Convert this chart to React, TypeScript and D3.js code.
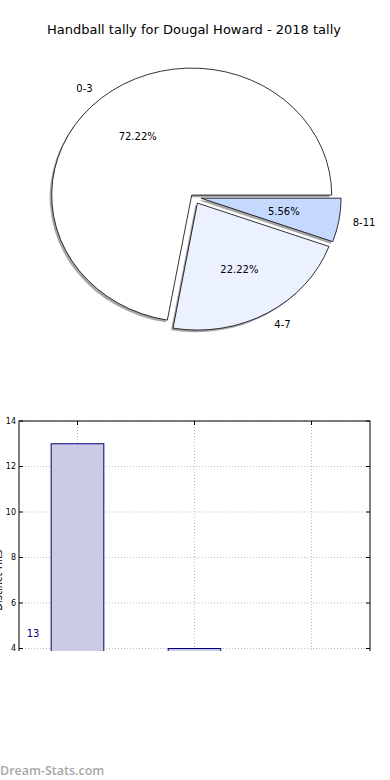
import * as d3 from "d3";

// pie data
const categories = ["0-3", "4-7", "8-11"];
const tally = [13, 4, 1];
const sliceColors = ["#ffffff", "#ebf1fe", "#c5d8fe"];
const explode = [0.02, 0.055, 0.055];

// bar chart ticks
const yTicks = [4, 6, 8, 10, 12, 14];
const barLabelY = [4.65, 1.4, 0.4];

const W = 390;
const H = 780;

export default function App() {
  // pie geometry (elliptical, matplotlib style: CCW from 3 o'clock)
  const cx = 193.5;
  const cy = 197;
  const rx = 140;
  const ry = 127;
  const total = d3.sum(tally);

  const pie = d3
    .pie<number>()
    .sort(null)
    .startAngle(Math.PI / 2)
    .endAngle(Math.PI / 2 - 2 * Math.PI);
  const arcs = pie(tally);
  const arc = d3.arc<d3.PieArcDatum<number>>().innerRadius(0).outerRadius(1);

  const slices = arcs.map((a, i) => {
    const mid = (a.startAngle + a.endAngle) / 2;
    const dx = Math.sin(mid);
    const dy = -Math.cos(mid);
    const ox = cx + dx * explode[i] * rx;
    const oy = cy + dy * explode[i] * ry;
    return {
      d: arc(a) as string,
      ox,
      oy,
      label: { x: ox + 1.1 * rx * dx, y: oy + 1.1 * ry * dy, left: dx > 0 },
      pct: { x: ox + 0.6 * rx * dx, y: oy + 0.6 * ry * dy },
      text: ((tally[i] / total) * 100).toFixed(2) + "%",
    };
  });

  // bar chart scales
  const x = d3.scaleLinear().domain([-0.5, 2.5]).range([19, 370]);
  const y = d3.scaleLinear().domain([0, 14]).range([739.5, 421]);
  const barW = 0.45;

  return (
    <svg
      width={W}
      height={H}
      style={{ position: "absolute", left: 0, top: 0, background: "#fff" }}
      fontFamily="DejaVu Sans"
    >
      <defs>
        <clipPath id="cut">
          <rect x={0} y={0} width={W} height={651} />
        </clipPath>
      </defs>
      <rect width={W} height={H} fill="#fff" />

      <text x={194} y={34} textAnchor="middle" fontSize={13} fill="#000">
        Handball tally for Dougal Howard - 2018 tally
      </text>

      {/* shadows */}
      {slices.map((s, i) => (
        <path
          key={"sh" + i}
          d={s.d}
          transform={`translate(${s.ox - 2},${s.oy + 2.2}) scale(${rx},${ry})`}
          fill="#4d4d4d"
          fillOpacity={0.5}
          stroke="none"
        />
      ))}
      {slices.map((s, i) => (
        <path
          key={"sl" + i}
          d={s.d}
          transform={`translate(${s.ox},${s.oy}) scale(${rx},${ry})`}
          fill={sliceColors[i]}
          stroke="#000"
          strokeWidth={0.8}
          vectorEffect="non-scaling-stroke"
        />
      ))}
      {slices.map((s, i) => (
        <g key={"lb" + i} fontSize={10} fill="#000">
          <text
            x={s.label.x}
            y={s.label.y}
            textAnchor={s.label.left ? "start" : "end"}
            dominantBaseline="central"
          >
            {categories[i]}
          </text>
          <text x={s.pct.x} y={s.pct.y} textAnchor="middle" dominantBaseline="central">
            {s.text}
          </text>
        </g>
      ))}

      {/* bar chart, cut off at the bottom */}
      <g clipPath="url(#cut)">
        {[0, 1, 2].map((t) => (
          <line
            key={"gx" + t}
            x1={x(t)}
            x2={x(t)}
            y1={y(14)}
            y2={y(0)}
            stroke="#bdbdbd"
            strokeDasharray="1,2"
          />
        ))}
        {yTicks.map((t) => (
          <line
            key={"gy" + t}
            x1={x(-0.5)}
            x2={x(2.5)}
            y1={y(t)}
            y2={y(t)}
            stroke="#bdbdbd"
            strokeDasharray="1,2"
          />
        ))}
        {tally.map((v, i) => (
          <rect
            key={"b" + i}
            x={x(i - barW / 2)}
            y={y(v)}
            width={x(barW) - x(0)}
            height={y(0) - y(v)}
            fill="#cbcbe3"
            stroke="#000080"
            strokeWidth={1}
          />
        ))}
        {tally.map((v, i) => (
          <text
            key={"bl" + i}
            x={x(i - 0.38)}
            y={y(barLabelY[i])}
            textAnchor="middle"
            dominantBaseline="central"
            fontSize={10}
            fill="#000080"
          >
            {v}
          </text>
        ))}
        <rect
          x={x(-0.5)}
          y={y(14)}
          width={x(2.5) - x(-0.5)}
          height={y(0) - y(14)}
          fill="none"
          stroke="#000"
          strokeWidth={1}
        />
        {yTicks.map((t) => (
          <g key={"yt" + t}>
            <line x1={x(-0.5)} x2={x(-0.5) + 4} y1={y(t)} y2={y(t)} stroke="#000" />
            <line x1={x(2.5)} x2={x(2.5) - 4} y1={y(t)} y2={y(t)} stroke="#000" />
            <text
              x={x(-0.5) - 3}
              y={y(t)}
              textAnchor="end"
              dominantBaseline="central"
              fontSize={8}
              fill="#000"
            >
              {t}
            </text>
          </g>
        ))}
        {[0, 1, 2].map((t) => (
          <line key={"xt" + t} x1={x(t)} x2={x(t)} y1={y(14)} y2={y(14) + 4} stroke="#000" />
        ))}
        <text
          transform={`translate(1.5,${(y(0) + y(14)) / 2}) rotate(-90)`}
          textAnchor="middle"
          fontSize={10}
          fill="#000"
        >
          Distinct Hits
        </text>
      </g>

      <text
        x={0}
        y={775}
        fontFamily="Open Sans"
        fontWeight={600}
        fontSize={12.5}
        fill="#a6a6a6"
      >
        Dream-Stats.com
      </text>
    </svg>
  );
}
